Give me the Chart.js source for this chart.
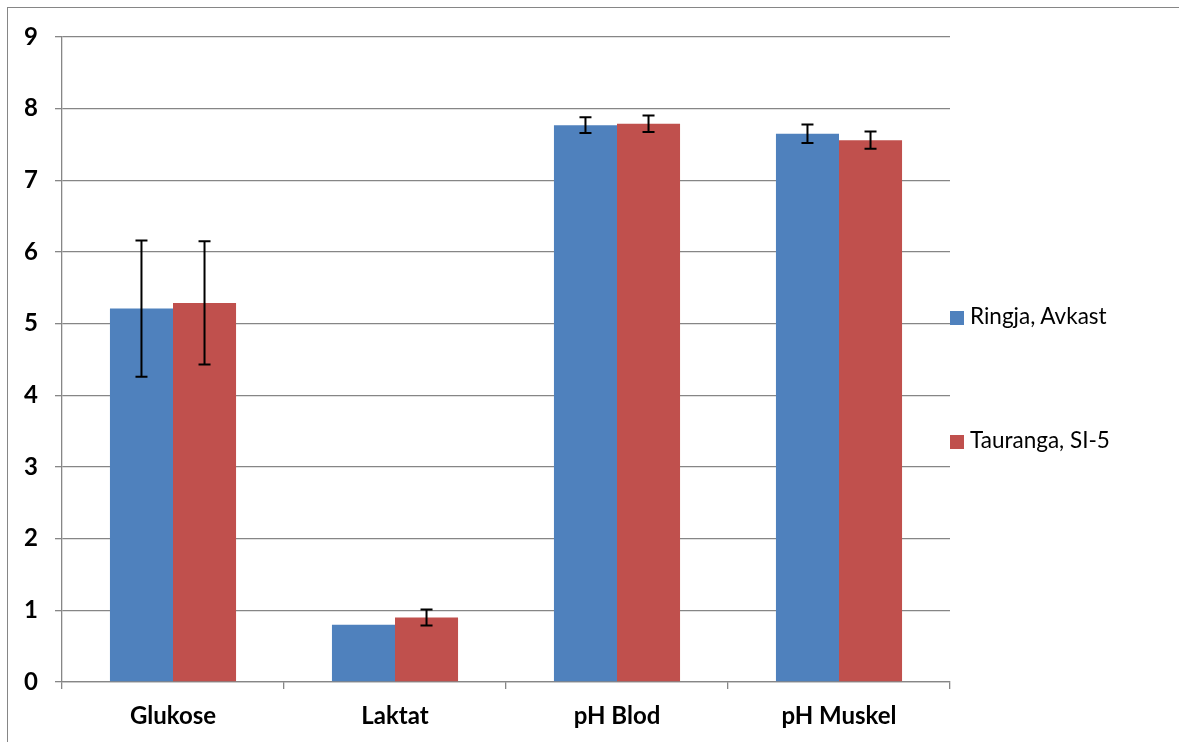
<!DOCTYPE html>
<html>
<head>
<meta charset="utf-8">
<script src="https://cdn.jsdelivr.net/npm/chart.js@4"></script>
<style>
  body { margin: 0; background: #fff; overflow: hidden; }
  #wrap { position: absolute; left: 0; top: 0; width: 1179px; height: 742px; }
  #frame { position: absolute; left: 7px; top: 7px; width: 1300px; height: 900px; border: 1.5px solid #868686; box-sizing: border-box; }
  .leg { position: absolute; left: 950px; font: 22.5px Lato, sans-serif; color: #000; white-space: nowrap; line-height: 26px; }
  .leg span.box { display: inline-block; width: 14px; height: 14px; margin-right: 6px; vertical-align: -1px; }
</style>
</head>
<body>
<div id="wrap">
  <div id="frame"></div>
  <canvas id="bar-chart"></canvas>
</div>
<script>
// values
var categories = ["Glukose", "Laktat", "pH Blod", "pH Muskel"];
var ringja = [5.21, 0.80, 7.77, 7.65];
var ringjaErr = [0.95, 0, 0.11, 0.13];
var tauranga = [5.29, 0.90, 7.79, 7.56];
var taurangaErr = [0.86, 0.11, 0.115, 0.12];
var yTicks = [0, 1, 2, 3, 4, 5, 6, 7, 8, 9];

var grey = "#868686";

// error bars drawn from the bar elements and the y scale
var errorBars = {
  id: 'errorBars',
  afterDatasetsDraw: function(chart) {
    var ctx = chart.ctx;
    var y = chart.scales.y;
    ctx.save();
    ctx.strokeStyle = "#000";
    ctx.lineWidth = 2;
    chart.data.datasets.forEach(function(ds, di) {
      var meta = chart.getDatasetMeta(di);
      meta.data.forEach(function(bar, i) {
        var e = ds.errors[i];
        if (!e) return;
        var top = y.getPixelForValue(ds.data[i] + e);
        var bot = y.getPixelForValue(ds.data[i] - e);
        ctx.beginPath();
        ctx.moveTo(bar.x, top); ctx.lineTo(bar.x, bot);
        ctx.moveTo(bar.x - 6, top); ctx.lineTo(bar.x + 6, top);
        ctx.moveTo(bar.x - 6, bot); ctx.lineTo(bar.x + 6, bot);
        ctx.stroke();
      });
    });
    ctx.restore();
  }
};

var chart = new Chart(document.getElementById("bar-chart"), {
  type: 'bar',
  data: {
    labels: categories,
    datasets: [
      { label: "Ringja, Avkast", backgroundColor: "#4F81BD", data: ringja, errors: ringjaErr },
      { label: "Tauranga, SI-5", backgroundColor: "#C0504D", data: tauranga, errors: taurangaErr }
    ]
  },
  options: {
    responsive: true,
    maintainAspectRatio: false,
    animation: false,
    layout: { padding: { top: 37, right: 229, left: 1, bottom: 0 } },
    datasets: { bar: { categoryPercentage: 0.568, barPercentage: 1 } },
    plugins: { legend: { display: false }, tooltip: { enabled: false } },
    scales: {
      x: {
        afterFit: function(s) { s.height = 60; },
        grid: { offset: true, drawOnChartArea: false, drawTicks: true, tickLength: 7, color: grey, lineWidth: 1.3 },
        border: { color: grey, width: 1.3 },
        ticks: { color: "#000", padding: 13, font: { family: "Lato", size: 24, weight: "bold" } }
      },
      y: {
        min: 0, max: 9,
        afterFit: function(s) { s.width = 61; },
        afterBuildTicks: function(s) { s.ticks = yTicks.map(function(v) { return { value: v }; }); },
        grid: { color: grey, lineWidth: 1.3, tickLength: 7 },
        border: { color: grey, width: 1.3 },
        ticks: { color: "#000", padding: 17, font: { family: "Lato", size: 24, weight: "bold" } }
      }
    }
  },
  plugins: [errorBars]
});

// legend
var legendTops = [303, 427];
chart.data.datasets.forEach(function(ds, i) {
  var d = document.createElement('div');
  d.className = 'leg';
  d.style.top = legendTops[i] + 'px';
  d.innerHTML = '<span class="box" style="background:' + ds.backgroundColor + '"></span>' + ds.label;
  document.getElementById('wrap').appendChild(d);
});
</script>
</body>
</html>
